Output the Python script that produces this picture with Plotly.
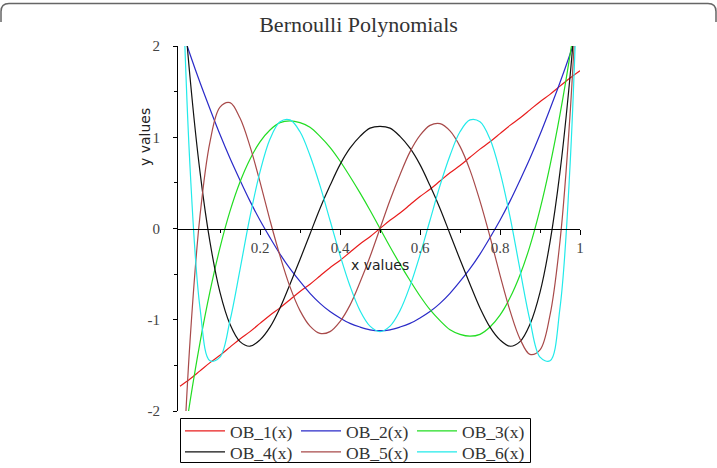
import plotly.graph_objects as go

# ---------------- data ----------------
x_values = [0.000, 0.025, 0.050, 0.075, 0.100, 0.125, 0.150, 0.175, 0.200, 0.225,
            0.250, 0.275, 0.300, 0.325, 0.350, 0.375, 0.400, 0.425, 0.450, 0.475,
            0.500, 0.525, 0.550, 0.575, 0.600, 0.625, 0.650, 0.675, 0.700, 0.725,
            0.750, 0.775, 0.800, 0.825, 0.850, 0.875, 0.900, 0.925, 0.950, 0.975,
            1.000]

ob1 = [-1.73, -1.65, -1.56, -1.47, -1.39, -1.30, -1.21, -1.13, -1.04, -0.95,
       -0.87, -0.78, -0.69, -0.61, -0.52, -0.43, -0.35, -0.26, -0.17, -0.09,
       0.00, 0.09, 0.17, 0.26, 0.35, 0.43, 0.52, 0.61, 0.69, 0.78,
       0.87, 0.95, 1.04, 1.13, 1.21, 1.30, 1.39, 1.47, 1.56, 1.65,
       1.73]

ob2 = [2.24, 1.91, 1.60, 1.31, 1.03, 0.77, 0.53, 0.30, 0.09, -0.10,
       -0.28, -0.44, -0.58, -0.71, -0.82, -0.91, -0.98, -1.04, -1.08, -1.11,
       -1.12, -1.11, -1.08, -1.04, -0.98, -0.91, -0.82, -0.71, -0.58, -0.44,
       -0.28, -0.10, 0.09, 0.30, 0.53, 0.77, 1.03, 1.31, 1.60, 1.91,
       2.24]

ob3 = [-2.65, -1.90, -1.25, -0.69, -0.21, 0.19, 0.51, 0.76, 0.95, 1.08,
       1.16, 1.18, 1.16, 1.11, 1.01, 0.89, 0.74, 0.57, 0.39, 0.20,
       0.00, -0.20, -0.39, -0.57, -0.74, -0.89, -1.01, -1.11, -1.16, -1.18,
       -1.16, -1.08, -0.95, -0.76, -0.51, -0.19, 0.21, 0.69, 1.25, 1.90,
       2.65]

ob4 = [3.00, 1.66, 0.62, -0.15, -0.70, -1.05, -1.24, -1.29, -1.22, -1.08,
       -0.87, -0.61, -0.34, -0.06, 0.22, 0.47, 0.70, 0.88, 1.01, 1.10,
       1.12, 1.10, 1.01, 0.88, 0.70, 0.47, 0.22, -0.06, -0.34, -0.61,
       -0.87, -1.08, -1.22, -1.29, -1.24, -1.05, -0.70, -0.15, 0.62, 1.66,
       3.00]

ob5 = [-3.32, -1.24, 0.14, 0.95, 1.33, 1.38, 1.21, 0.90, 0.51, 0.09,
       -0.30, -0.64, -0.90, -1.07, -1.15, -1.13, -1.02, -0.84, -0.59, -0.31,
       0.00, 0.31, 0.59, 0.84, 1.02, 1.13, 1.15, 1.07, 0.90, 0.64,
       0.30, -0.09, -0.51, -0.90, -1.21, -1.38, -1.33, -0.95, -0.14, 1.24,
       3.32]

ob6 = [3.61, 0.68, -0.87, -1.45, -1.41, -1.01, -0.45, 0.13, 0.62, 0.98,
       1.17, 1.19, 1.06, 0.80, 0.47, 0.09, -0.29, -0.63, -0.90, -1.07,
       -1.13, -1.07, -0.90, -0.63, -0.29, 0.09, 0.47, 0.80, 1.06, 1.19,
       1.17, 0.98, 0.62, 0.13, -0.45, -1.01, -1.41, -1.45, -0.87, 0.68,
       3.61]

series_names = ["OB_1(x)", "OB_2(x)", "OB_3(x)", "OB_4(x)", "OB_5(x)", "OB_6(x)"]
series_values = [ob1, ob2, ob3, ob4, ob5, ob6]
series_colors = ["#e81c1c", "#2a2ac8", "#22dd22", "#111111", "#a84a4a", "#22eaea"]

x_tick_vals = [0.2, 0.4, 0.6, 0.8, 1.0]
x_tick_text = ["0.2", "0.4", "0.6", "0.8", "1"]
x_minor_vals = [0.1, 0.3, 0.5, 0.7, 0.9]
y_tick_vals = [-2, -1, 0, 1, 2]
y_tick_text = ["-2", "-1", "0", "1", "2"]
y_minor_vals = [-1.5, -0.5, 0.5, 1.5]

# ---------------- figure ----------------
W, H = 717, 468
L, R, T, B = 178, 137, 46, 57

fig = go.Figure()
for i, (name, vals, col) in enumerate(zip(series_names, series_values, series_colors)):
    fig.add_trace(go.Scatter(
        x=x_values, y=vals, name=name, mode="lines",
        line=dict(color=col, width=1.2, shape="spline"),
        legend="legend" if i < 3 else "legend2",
    ))

serif = "Liberation Serif, Times New Roman, serif"
sans = "DejaVu Sans, Verdana, sans-serif"

def px_x(p):
    return (p - L) / (W - L - R)

def px_y(p):
    return (H - B - p) / (H - T - B)

# decorative rounded frame at the top of the picture
frame = (f"M {px_x(1)},{px_y(22)} L {px_x(1)},{px_y(11.5)} "
         f"Q {px_x(1)},{px_y(3.5)} {px_x(9)},{px_y(3.5)} "
         f"L {px_x(708)},{px_y(3.5)} "
         f"Q {px_x(716)},{px_y(3.5)} {px_x(716)},{px_y(11.5)} "
         f"L {px_x(716)},{px_y(22)}")

legend_common = dict(orientation="h", xanchor="left", yanchor="middle",
                     borderwidth=0, bgcolor="rgba(0,0,0,0)",
                     font=dict(family=serif, size=17.5, color="#333333"),
                     entrywidth=61, entrywidthmode="pixels",
                     itemwidth=40, tracegroupgap=0)

fig.update_layout(
    width=W, height=H,
    margin=dict(l=L, r=R, t=T, b=B, pad=0, autoexpand=False),
    paper_bgcolor="white", plot_bgcolor="white",
    title=dict(text="Bernoulli Polynomials", x=0.5, xref="container",
               y=1 - 24 / H, yref="container", yanchor="middle", xanchor="center",
               font=dict(family=serif, size=22, color="#333333")),
    xaxis=dict(range=[-0.005, 1.0], anchor="free", position=0.5,
               showline=True, linecolor="black", linewidth=1,
               showgrid=False, zeroline=False,
               ticks="outside", ticklen=5, tickcolor="black", tickwidth=1,
               tickvals=x_tick_vals, ticktext=x_tick_text,
               minor=dict(tickvals=x_minor_vals, ticks="outside", ticklen=3,
                          tickcolor="black", showgrid=False),
               tickfont=dict(family=serif, size=15, color="#444444")),
    yaxis=dict(range=[-2, 2], showline=True, linecolor="black", linewidth=1,
               showgrid=False, zeroline=False,
               ticks="outside", ticklen=4, tickcolor="black", tickwidth=1,
               tickvals=y_tick_vals, ticktext=y_tick_text,
               minor=dict(tickvals=y_minor_vals, ticks="outside", ticklen=3,
                          tickcolor="black", showgrid=False),
               ticklabelstandoff=10,
               tickfont=dict(family=serif, size=15, color="#444444")),
    legend=dict(x=px_x(180), y=px_y(431), **legend_common),
    legend2=dict(x=px_x(180), y=px_y(452), **legend_common),
    showlegend=True,
    shapes=[
        dict(type="path", path=frame, xref="paper", yref="paper",
             line=dict(color="#666666", width=1.5)),
        dict(type="rect", xref="paper", yref="paper",
             x0=px_x(180.5), x1=px_x(530.5), y0=px_y(418.5), y1=px_y(462.5),
             line=dict(color="black", width=1), fillcolor="rgba(0,0,0,0)"),
    ],
    annotations=[
        dict(text="x values", x=px_x(380), y=px_y(265), xref="paper", yref="paper",
             showarrow=False, xanchor="center", yanchor="middle",
             font=dict(family=sans, size=14, color="#222222")),
        dict(text="y values", x=px_x(145), y=px_y(137), xref="paper", yref="paper",
             showarrow=False, xanchor="center", yanchor="middle", textangle=-90,
             font=dict(family=sans, size=14, color="#222222")),
    ],
)

fig.write_html("out.html")
